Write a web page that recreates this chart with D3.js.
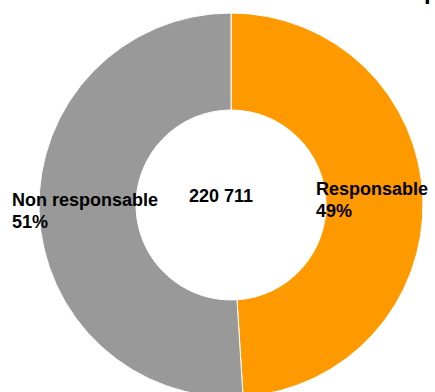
<!DOCTYPE html>
<html>
<head>
<meta charset="utf-8">
<script src="https://cdn.jsdelivr.net/npm/d3@7"></script>
<style>
  html, body { margin: 0; padding: 0; background: #fff; }
  svg { display: block; }
  text { font-family: "Liberation Sans", Arial, sans-serif; font-weight: bold; fill: #000; }
</style>
</head>
<body>
<svg id="chart" width="435" height="392"></svg>
<script>
// Share of responsible vs non-responsible, out of a total count
const categories = ["Responsable", "Non responsable"];
const shares = [49, 51];
const percentLabels = ["49%", "51%"];
const totalLabel = "220 711";
const colors = ["#FF9900", "#999999"];

const svg = d3.select("#chart");
const cx = 231, cy = 205;
const outerR = 192, innerR = 95;

const pie = d3.pie().sort(null).value(d => d.value);
const arcs = pie(categories.map((c, i) => ({ name: c, value: shares[i], color: colors[i] })));
const arc = d3.arc().innerRadius(innerR).outerRadius(outerR);

const g = svg.append("g").attr("transform", `translate(${cx},${cy})`);
g.selectAll("path")
  .data(arcs)
  .join("path")
  .attr("d", arc)
  .attr("fill", d => d.data.color)
  .attr("stroke", "#fff")
  .attr("stroke-width", 1);

// Slice labels: name and percentage on two lines
const labelPos = [
  { x: 316, y: 195 },
  { x: 12, y: 206 }
];
categories.forEach((c, i) => {
  const t = svg.append("text")
    .attr("x", labelPos[i].x)
    .attr("y", labelPos[i].y)
    .attr("font-size", 18);
  t.append("tspan").attr("x", labelPos[i].x).text(c);
  t.append("tspan").attr("x", labelPos[i].x).attr("dy", 22).text(percentLabels[i]);
});

// Total in the hole
svg.append("text")
  .attr("x", 189)
  .attr("y", 202)
  .attr("font-size", 18)
  .text(totalLabel);

// Title line running above the top edge
svg.append("text")
  .attr("x", 424)
  .attr("y", -1)
  .attr("font-size", 24)
  .text("p");
</script>
</body>
</html>
